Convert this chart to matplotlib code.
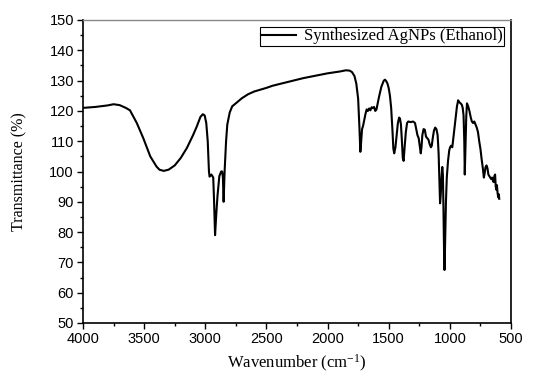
import numpy as np
import matplotlib
matplotlib.use('Agg')
import matplotlib.pyplot as plt
from matplotlib.ticker import MultipleLocator

# FTIR spectrum (wavenumber in cm-1, transmittance in %)
wavenumber = [4000, 3900, 3800, 3750, 3700, 3650, 3616, 3560, 3507, 3450, 3400, 3375,
              3340, 3300, 3250, 3200, 3150, 3100, 3070, 3040, 3020, 3005, 2992, 2980,
              2970, 2965, 2950, 2935, 2928, 2920, 2910, 2900, 2885, 2870, 2862, 2856,
              2850, 2842, 2830, 2820, 2800, 2780, 2750, 2700, 2650, 2600, 2550, 2500,
              2450, 2400, 2350, 2300, 2250, 2200, 2150, 2100, 2050, 2000, 1950, 1900,
              1850, 1820, 1800, 1780, 1765, 1750, 1740, 1732, 1725, 1718, 1710, 1700,
              1690, 1680, 1670, 1660, 1650, 1640, 1630, 1620, 1610, 1600, 1590, 1580,
              1560, 1540, 1530, 1520, 1510, 1500, 1490, 1480, 1470, 1462, 1455, 1445,
              1435, 1425, 1415, 1408, 1400, 1392, 1385, 1378, 1370, 1360, 1350, 1340,
              1320, 1300, 1285, 1275, 1265, 1255, 1245, 1238, 1232, 1225, 1215, 1205,
              1195, 1185, 1175, 1165, 1155, 1148, 1140, 1130, 1120, 1110, 1100, 1092,
              1085, 1080, 1075, 1068, 1062, 1057, 1052, 1047, 1044, 1040, 1032, 1025,
              1015, 1005, 998, 990, 980, 970, 962, 952, 942, 932, 922, 912,
              902, 895, 888, 882, 878, 872, 866, 860, 850, 840, 830, 820,
              810, 800, 790, 780, 770, 760, 750, 740, 730, 722, 715, 708,
              700, 692, 685, 678, 670, 662, 655, 648, 642, 636, 630, 625,
              620, 615, 610, 605, 600, 596]
transmittance = [121.0, 121.3, 121.8, 122.2, 121.9, 121.0, 120.2, 116.0, 111.0, 105.0, 101.7, 100.6,
                 100.2, 100.6, 102.0, 104.5, 107.8, 112.0, 114.8, 118.0, 118.9, 118.5, 116.0, 110.0,
                 100.0, 98.3, 99.0, 98.0, 90.0, 79.0, 86.0, 92.0, 98.5, 100.0, 100.0, 98.0,
                 90.0, 100.0, 110.0, 115.5, 119.5, 121.5, 122.5, 124.2, 125.5, 126.4, 127.0, 127.6,
                 128.3, 128.8, 129.3, 129.8, 130.3, 130.8, 131.2, 131.6, 132.0, 132.4, 132.7, 133.0,
                 133.4, 133.3, 132.8, 131.5, 129.0, 124.0, 115.0, 106.5, 110.0, 114.0, 115.0, 117.0,
                 119.0, 120.5, 120.0, 120.8, 120.2, 121.2, 121.0, 121.3, 120.0, 120.5, 122.5, 124.5,
                 128.0, 130.0, 130.3, 129.8, 129.0, 127.5, 125.0, 121.0, 114.0, 107.5, 106.0, 108.0,
                 112.0, 116.0, 117.8, 117.5, 115.5, 110.0, 104.5, 103.5, 108.0, 113.0, 116.0, 116.5,
                 116.3, 116.5, 116.0, 114.0, 112.0, 111.0, 108.0, 106.0, 108.0, 112.0, 114.0, 113.8,
                 111.5, 111.0, 110.5, 109.0, 108.0, 108.5, 111.0, 113.5, 114.5, 114.0, 112.0, 106.0,
                 96.0, 89.5, 92.0, 98.0, 101.5, 99.0, 87.0, 72.0, 67.5, 74.0, 90.0, 98.0,
                 103.5, 107.0, 108.0, 108.5, 108.0, 111.5, 114.0, 118.0, 121.5, 123.5, 122.8, 122.5,
                 122.0, 121.0, 118.5, 110.0, 99.0, 108.0, 118.0, 122.5, 121.5, 120.0, 118.0, 116.5,
                 116.0, 116.5, 115.5, 114.5, 113.0, 110.0, 107.5, 104.0, 101.0, 98.0, 99.5, 101.5,
                 102.0, 101.0, 99.0, 98.5, 98.0, 97.5, 98.0, 97.0, 96.5, 98.5, 99.0, 95.0,
                 94.0, 95.5, 93.0, 91.5, 92.5, 91.0]

plt.rcParams['mathtext.fontset'] = 'custom'
plt.rcParams['mathtext.rm'] = 'Liberation Serif'
plt.rcParams['mathtext.it'] = 'Liberation Serif:italic'

fig = plt.figure(figsize=(5.34, 3.78), dpi=100)
ax = fig.add_axes([83/534, 1 - 323/378, 428/534, 303/378])

ax.plot(wavenumber, transmittance, color='black', lw=1.5, label='Synthesized AgNPs (Ethanol)')

ax.set_xlim(4000, 500)
ax.set_ylim(50, 150)
ax.xaxis.set_major_locator(MultipleLocator(500))
ax.xaxis.set_minor_locator(MultipleLocator(250))
ax.yaxis.set_major_locator(MultipleLocator(10))
ax.yaxis.set_minor_locator(MultipleLocator(5))
ax.tick_params(which='major', direction='out', length=4.5, width=1, labelsize=10.5, pad=2)
ax.tick_params(which='minor', direction='out', length=2.5, width=1)
for lab in ax.get_xticklabels() + ax.get_yticklabels():
    lab.set_fontfamily('Liberation Sans')

for s in ['left', 'bottom', 'right']:
    ax.spines[s].set_linewidth(1.2)
ax.spines['top'].set_color('#888888')
ax.spines['top'].set_linewidth(1.0)

ax.set_xlabel('Wavenumber (cm$^{-1}$)', fontfamily='Liberation Serif', fontsize=12, labelpad=5)
ax.set_ylabel('Transmittance (%)', fontfamily='Liberation Serif', fontsize=11.5, labelpad=16)

leg = ax.legend(loc='upper right', prop={'family': 'Liberation Serif', 'size': 12},
                frameon=True, fancybox=False, framealpha=1, edgecolor='black',
                handlelength=2.1, borderpad=0.08, borderaxespad=0.42, handletextpad=0.45)
leg.get_frame().set_linewidth(0.8)

fig.savefig('out.png', dpi=100)
